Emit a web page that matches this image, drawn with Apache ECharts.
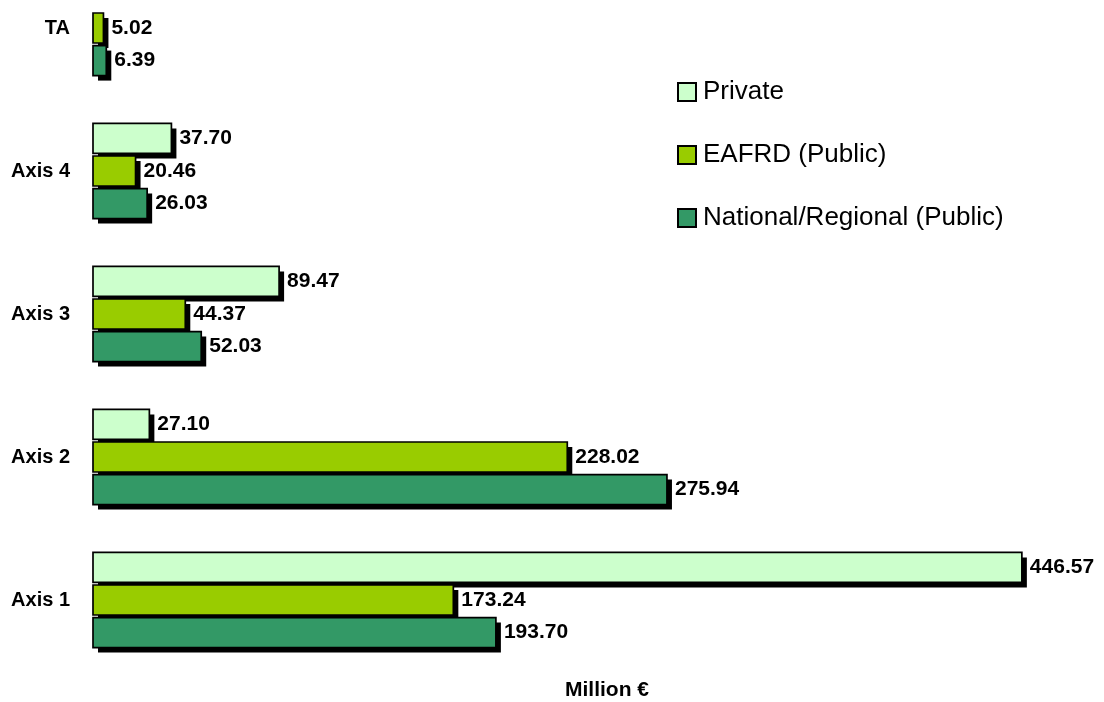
<!DOCTYPE html>
<html>
<head>
<meta charset="utf-8">
<script src="https://cdn.jsdelivr.net/npm/echarts@6/dist/echarts.min.js"></script>
<style>html,body{margin:0;padding:0;background:#fff;}#c{width:1104px;height:702px;}</style>
</head>
<body>
<div id="c"></div>
<script>
const categories = ['Axis 1', 'Axis 2', 'Axis 3', 'Axis 4', 'TA'];
const privateVals = [446.57, 27.10, 89.47, 37.70, null];
const eafrdVals = [173.24, 228.02, 44.37, 20.46, 5.02];
const nationalVals = [193.70, 275.94, 52.03, 26.03, 6.39];
const seriesNames = ['Private', 'EAFRD (Public)', 'National/Regional (Public)'];
const colors = ['#CCFFCC', '#99CC00', '#339966'];

const font = 'Liberation Sans, Arial, sans-serif';
const labelFont = 'bold 21px ' + font;

function mk(name, vals, color, sIdx) {
  const data = vals.map((v, i) => [v, i]).filter(d => d[0] != null);
  return {
    name: name, type: 'custom', z: 2 + sIdx,
    data: data, encode: { x: 0, y: 1 },
    itemStyle: { color: color, borderColor: '#000', borderWidth: 1.5 },
    renderItem: function (params, api) {
      const v = api.value(0), c = api.value(1);
      const end = api.coord([v, c]);
      const start = api.coord([0, c]);
      const band = api.size([0, 1])[1];
      const bw = band * 0.21;
      const gap = bw * 0.085;
      const cy = end[1] + (sIdx - 1) * (bw + gap);
      const top = cy - bw / 2;
      const w = end[0] - start[0];
      return {
        type: 'group',
        children: [
          { type: 'rect', shape: { x: start[0] + 5, y: top + 5, width: w, height: bw }, style: { fill: '#000' } },
          { type: 'rect', shape: { x: start[0], y: top, width: w, height: bw },
            style: { fill: color, stroke: '#000', lineWidth: 1.7 } },
          { type: 'text', style: { x: end[0] + 8, y: cy, text: v.toFixed(2), font: labelFont,
            fill: '#000', verticalAlign: 'middle', align: 'left' } }
        ]
      };
    }
  };
}
const chart = echarts.init(document.getElementById('c'));
chart.setOption({
  animation: false,
  grid: { left: 93, top: -43.5, height: 715, width: 936, containLabel: false, outerBoundsMode: 'none' },
  legend: {
    orient: 'vertical', left: 672, top: 74, itemWidth: 18, itemHeight: 18, itemGap: 37,
    icon: 'rect',
    textStyle: { fontFamily: font, fontSize: 26, color: '#000', padding: [0, 0, 0, 2] },
    itemStyle: { borderColor: '#000', borderWidth: 2 },
    data: seriesNames, selectedMode: false
  },
  xAxis: {
    type: 'value', min: 0, max: 450,
    axisLine: { show: false }, axisTick: { show: false }, axisLabel: { show: false }, splitLine: { show: false },
    name: 'Million €', nameLocation: 'middle', nameGap: 8,
    nameTextStyle: { fontFamily: font, fontWeight: 'bold', fontSize: 21, color: '#000', padding: [0, 0, 0, 92] }
  },
  yAxis: {
    type: 'category', data: categories,
    axisLine: { show: false }, axisTick: { show: false }, splitLine: { show: false },
    axisLabel: { margin: 23, fontFamily: font, fontWeight: 'bold', fontSize: 20, color: '#000' }
  },
  series: [
    mk(seriesNames[0], privateVals, colors[0], 0),
    mk(seriesNames[1], eafrdVals, colors[1], 1),
    mk(seriesNames[2], nationalVals, colors[2], 2)
  ]
});
</script>
</body>
</html>
